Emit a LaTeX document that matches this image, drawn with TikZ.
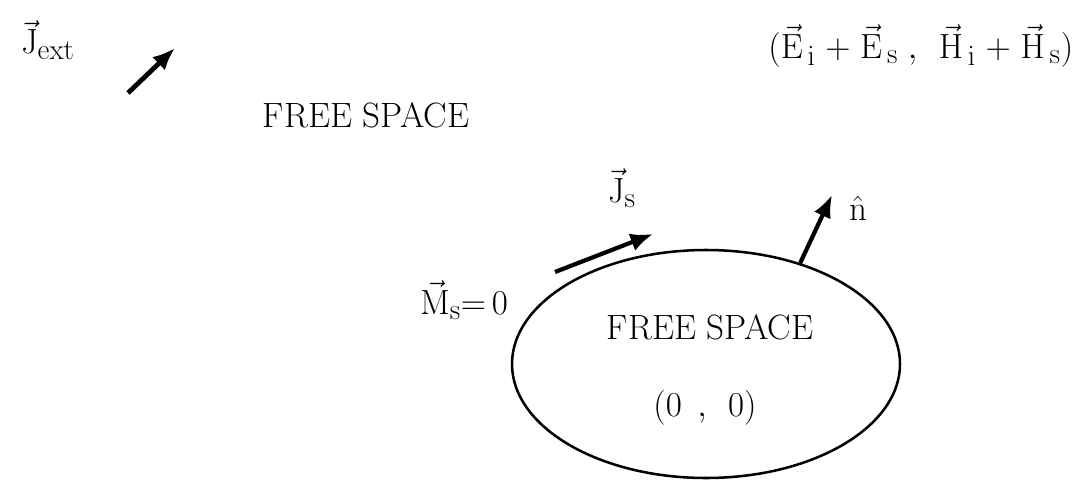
\documentclass[tikz,border=0pt]{standalone}
\usepackage{amsmath,amssymb}
\usepackage{tikz}
\usetikzlibrary{arrows.meta,positioning,shapes.geometric}
\DeclareMathSizes{25}{25}{20}{16}

\begin{document}
\begin{tikzpicture}[font=\fontsize{25}{30}\selectfont,>={Latex[length=16pt,width=13pt]},
  vecarrow/.style={->,line width=3.4pt},
  lbl/.style={inner sep=0pt}]
\useasboundingbox (0,0) rectangle (27.175,12);
% outer region
\node[lbl] (jext) at (1.2,11.0) {$\vec{\mathrm{J}}_{\mathrm{ext}}$};
\coordinate (jtail) at (3.2,9.675);
\coordinate (jtip) at (4.375,10.8);
\draw[vecarrow] (jtail) -- (jtip);
\node[lbl] (outer) at (9.15,9.125) {FREE SPACE};
\node[lbl] (fields) at (23.02,10.85) {$(\vec{\mathrm{E}}_{\,\mathrm{i}}\;{+}\;\vec{\mathrm{E}}_{\,\mathrm{s}}\;,\;\,\vec{\mathrm{H}}_{\,\mathrm{i}}\;{+}\;\vec{\mathrm{H}}_{\,\mathrm{s}})$};
% scatterer
\node[draw,ellipse,line width=1.8pt,minimum width=9.7cm,minimum height=5.7cm] (body) at (17.65,2.9) {};
\node[lbl] (inner) at (17.75,3.825) {FREE SPACE};
\node[lbl] (origin) at (17.625,1.8) {$(0\;\,,\;\,0)$};
% surface currents
\node[lbl] (js) at (15.55,7.3) {$\vec{\mathrm{J}}_{\mathrm{s}}$};
\coordinate (jstail) at (13.875,5.2);
\coordinate (jstip) at (16.325,6.15);
\draw[vecarrow,line width=3pt] (jstail) -- (jstip);
\node[lbl] (ms) at (11.6,4.5) {$\vec{\mathrm{M}}_{\mathrm{s}}{=}\,0$};
% normal
\coordinate (ntip) at (20.8,7.125);
\draw[vecarrow,line width=3pt] (body.47) -- (ntip);
\node[lbl] (nhat) at (21.45,6.8) {$\hat{\mathrm{n}}$};
\end{tikzpicture}
\end{document}
